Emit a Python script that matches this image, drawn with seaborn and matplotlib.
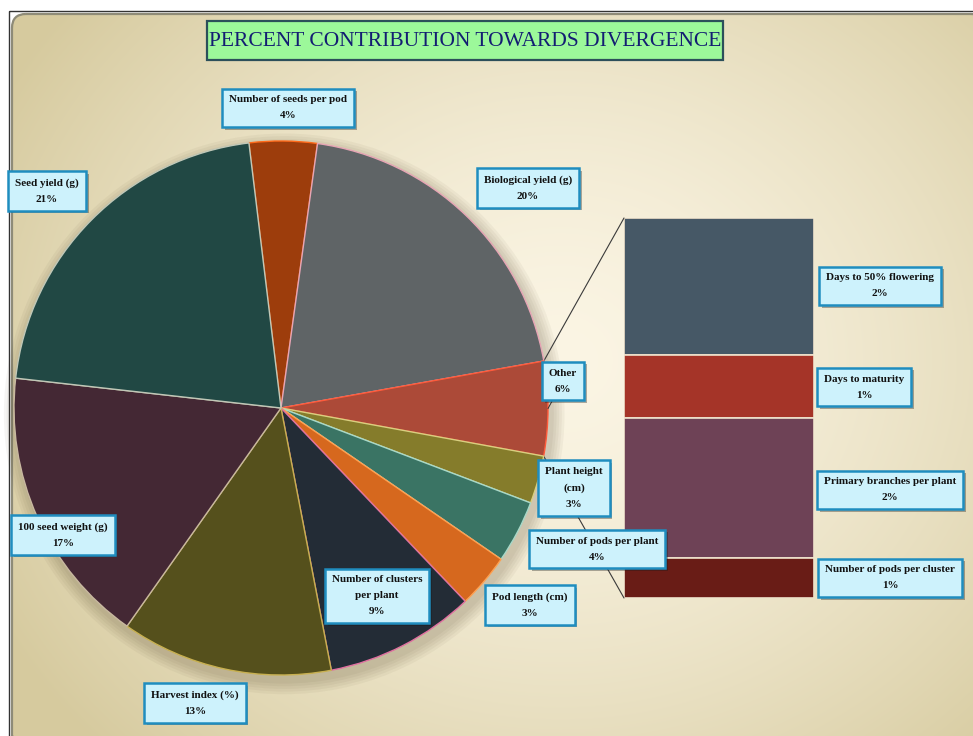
import numpy as np
import pandas as pd
import matplotlib
matplotlib.use("Agg")
import matplotlib.pyplot as plt
import seaborn as sns
from matplotlib.patches import FancyBboxPatch, Rectangle, ConnectionPatch, Circle
import matplotlib.patheffects as pe

# ---------------- data ----------------
title = "PERCENT CONTRIBUTION TOWARDS DIVERGENCE"
pie_labels = ["Number of seeds per pod", "Biological yield (g)", "Other",
              "Plant height\n(cm)", "Number of pods per plant", "Pod length (cm)",
              "Number of clusters\nper plant", "Harvest index (%)",
              "100 seed weight (g)", "Seed yield (g)"]
pie_values = [4.1, 20.0, 5.7, 2.9, 3.8, 3.3, 9.1, 12.8, 17.0, 21.3]
pie_colors = ["#9d3d0c", "#5f6466", "#ac4a38", "#857c2b", "#3a7464",
              "#d6681e", "#232c36", "#55501c", "#442834", "#214844"]
pie_edges = ["#ff6a1a", "#e7a5b5", "#ff5a3a", "#d8cf80", "#a8d8c8",
             "#ffa050", "#e070a0", "#c8b050", "#c8b8a0", "#c0c8b8"]

bar_labels = ["Days to 50% flowering", "Days to maturity",
              "Primary branches per plant", "Number of pods per cluster"]  # top -> bottom
bar_values = [2.05, 0.95, 2.1, 0.6]
bar_colors = ["#465866", "#a53428", "#6e4256", "#691c16"]

# ---------------- layout ----------------
W, H = 973, 736
sns.set_theme(style="white")
plt.rcParams["font.family"] = ["Liberation Serif", "DejaVu Serif"]

fig = plt.figure(figsize=(W / 100, H / 100), dpi=100)
fig.patch.set_facecolor("white")

# background
bg = fig.add_axes([0, 0, 1, 1])
bg.set_zorder(0)
yy, xx = np.mgrid[0:H, 0:W]
d = np.sqrt(((xx - 560) / 640) ** 2 + ((yy - 360) / 560) ** 2)
t = np.clip(d, 0, 1) ** 1.5
light = np.array([251, 245, 228]) / 255
dark = np.array([214, 202, 158]) / 255
img = light * (1 - t[..., None]) + dark * t[..., None]
im = bg.imshow(img, extent=(0, W, H, 0), zorder=0)
bg.set_xlim(0, W)
bg.set_ylim(H, 0)
bg.axis("off")
frame = FancyBboxPatch((12, 14), W, H, boxstyle="round,pad=0,rounding_size=14",
                       transform=bg.transData, fc="none", ec="#8e8b78", lw=1.6, zorder=2)
bg.add_patch(frame)
im.set_clip_path(frame)
bg.add_patch(Rectangle((8.5, 10.5), W, H, fill=False, ec="#333333", lw=1.0, zorder=3))

# title box
bg.add_patch(Rectangle((207, 21), 516, 39, fc="#9cf89a", ec="#2c4f5a", lw=1.6, zorder=4))
bg.text(465, 41, title, ha="center", va="center", fontsize=15.5,
        color="#131d72", zorder=5)

# ---------------- bar of pie ----------------
bx0, bx1, by0, by1 = 624, 814, 218, 598
ax_bar = fig.add_axes([bx0 / W, (H - by1) / H, (bx1 - bx0) / W, (by1 - by0) / H])
ax_bar.set_zorder(1)
ax_bar.set_facecolor("none")
bar_df = pd.DataFrame({"trait": bar_labels, "value": bar_values,
                       "group": ["Other"] * len(bar_labels)})
bottoms = np.cumsum([0] + bar_values[::-1][:-1])[::-1]
for (_, row), b, col in zip(bar_df.iterrows(), bottoms, bar_colors):
    sns.barplot(x=[row["group"]], y=[row["value"]], bottom=b, color=col,
                saturation=1, width=1, errorbar=None, ax=ax_bar,
                edgecolor="#efe2cc", linewidth=1.2)
total_bar = sum(bar_values)
ax_bar.set_xlim(-0.5, 0.5)
ax_bar.set_ylim(0, total_bar)
ax_bar.axis("off")

# ---------------- pie ----------------
cx, cy, R = 281, 408, 267
ax_pie = fig.add_axes([(cx - R) / W, (H - cy - R) / H, 2 * R / W, 2 * R / H])
ax_pie.set_zorder(2)
ax_pie.set_facecolor("none")
start = 96.9
wedges, _ = ax_pie.pie(pie_values, colors=pie_colors, startangle=start,
                       counterclock=False, radius=1,
                       wedgeprops=dict(linewidth=1.0))
for w_, ec in zip(wedges, pie_edges):
    w_.set_edgecolor(ec)
    w_.set_zorder(2)
# soft shadow
for k in range(5):
    ax_pie.add_patch(Circle((0.012, -0.022), 1.0 + 0.01 * (k + 1), fc="#3a2a10",
                            ec="none", alpha=0.045, zorder=1, clip_on=False))
ax_pie.set_xlim(-1, 1)
ax_pie.set_ylim(-1, 1)
ax_pie.axis("off")

# connector lines
tot = sum(pie_values)
cum = np.cumsum([0] + pie_values)
io = pie_labels.index("Other")
a1 = np.deg2rad(start - 360 * cum[io] / tot)
a2 = np.deg2rad(start - 360 * cum[io + 1] / tot)
for ang, yb in [(a1, total_bar), (a2, 0)]:
    con = ConnectionPatch(xyA=(np.cos(ang), np.sin(ang)), coordsA=ax_pie.transData,
                          xyB=(-0.5, yb), coordsB=ax_bar.transData,
                          color="#3a3a3a", lw=0.8, zorder=1)
    ax_pie.add_artist(con)

# ---------------- labels ----------------
box = dict(boxstyle="square,pad=0.62", fc="#cdf2fc", ec="#1f8dbf", lw=1.8)
shadow = [pe.SimplePatchShadow(offset=(2, -2), shadow_rgbFace="k", alpha=0.35), pe.Normal()]

pie_label_pos = [(288, 108), (528, 188), (563, 381), (574, 488), (597, 549),
                 (530, 605), (377, 596), (195, 703), (63, 535), (47, 191)]
leader = {"Other", "Plant height\n(cm)"}
mids = [np.deg2rad(start - 360 * (cum[i] + cum[i + 1]) / 2 / tot) for i in range(len(pie_values))]
for lab, v, (px, py), m in zip(pie_labels, pie_values, pie_label_pos, mids):
    kw = {}
    if lab in leader:
        kw["arrowprops"] = dict(arrowstyle="-", color="#333333", lw=0.7,
                                shrinkA=0, shrinkB=0)
    txt = ax_pie.annotate(f"{lab}\n{round(v):d}%", xy=(np.cos(m), np.sin(m)),
                          xytext=(px, H - py), textcoords="figure pixels",
                          ha="center", va="center", multialignment="center",
                          fontsize=8, fontweight="bold", linespacing=2.0,
                          color="#111111", bbox=box, zorder=6,
                          annotation_clip=False, **kw)
    txt.get_bbox_patch().set_path_effects(shadow)

bar_label_pos = [(880, 286), (864, 387), (890, 490), (890, 578)]
for lab, v, (px, py) in zip(bar_labels, bar_values, bar_label_pos):
    txt = fig.text(px / W, 1 - py / H, f"{lab}\n{round(v):d}%", ha="center", va="center",
                   multialignment="center", fontsize=8, fontweight="bold",
                   linespacing=2.0, color="#111111", bbox=box, zorder=6)
    txt.get_bbox_patch().set_path_effects(shadow)

fig.savefig("out.png", dpi=100, facecolor=fig.get_facecolor())
